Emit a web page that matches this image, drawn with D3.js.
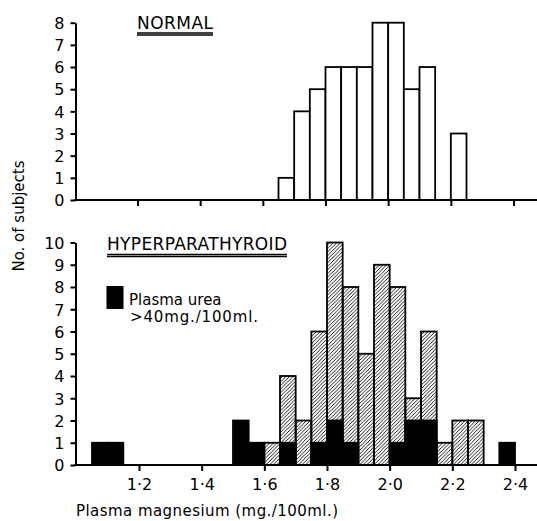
<!DOCTYPE HTML>
<html>
	<head>
		<title>Plasma magnesium histograms</title>
		<meta charset="UTF8">
		<script src="https://d3js.org/d3.v7.min.js"></script>
		<style>
			body
			{
				margin: 0;
				padding: 0;
				background-color: white;
			}
			svg
			{
				display: block;
				font-family: "DejaVu Sans", sans-serif;
			}
			.axis path, .axis line
			{
				stroke: black;
				stroke-width: 2;
			}
			.axis text
			{
				font-size: 16px;
				font-family: "DejaVu Sans", sans-serif;
				fill: black;
			}
		</style>
	</head>

	<body>
		<svg></svg>
	</body>

	<script>
		// bin lower edges (mg./100ml.), bins are 0.05 wide
		const normalBins = [1.65, 1.70, 1.75, 1.80, 1.85, 1.90, 1.95, 2.00, 2.05, 2.10, 2.15, 2.20];
		const normalCounts = [1, 4, 5, 6, 6, 6, 8, 8, 5, 6, 0, 3];

		const hyperBins = [1.05, 1.10, 1.50, 1.55, 1.60, 1.65, 1.70, 1.75, 1.80, 1.85, 1.90, 1.95, 2.00, 2.05, 2.10, 2.15, 2.20, 2.25, 2.30, 2.35];
		const hyperTotal = [1, 1, 2, 1, 1, 4, 2, 6, 10, 8, 5, 9, 8, 3, 6, 1, 2, 2, 0, 1];
		const hyperUrea = [1, 1, 2, 1, 0, 1, 0, 1, 2, 1, 0, 0, 1, 2, 2, 0, 0, 0, 0, 1];

		const xTicks = [1.2, 1.4, 1.6, 1.8, 2.0, 2.2, 2.4];
		const binWidth = 0.05;

		const w = 537;
		const h = 521;
		const axisX = 75.5;

		const svg = d3.select("svg")
		.attr("width", w)
		.attr("height", h);

		const defs = svg.append("defs");
		defs.append("pattern")
		.attr("id", "hatch")
		.attr("patternUnits", "userSpaceOnUse")
		.attr("width", 3.6)
		.attr("height", 3.6)
		.append("path")
		.attr("d", "M-1,1 l2,-2 M0,3.6 l3.6,-3.6 M2.6,4.6 l2,-2")
		.attr("stroke", "black")
		.attr("stroke-width", 0.9);

		const xTop = d3.scaleLinear().domain([1.2, 2.4]).range([137.5, 513.5]);
		const yTop = d3.scaleLinear().domain([0, 8]).range([200, 22.7]);
		const xBot = d3.scaleLinear().domain([1.2, 2.4]).range([139, 515]);
		const yBot = d3.scaleLinear().domain([0, 10]).range([465, 242.5]);

		const fmt = d => d3.format(".1f")(d).replace(".", "\u00b7");

		function drawAxes(x, y, maxY, labels)
		{
			const base = y(0);

			svg.append("g")
			.attr("class", "axis")
			.attr("transform", "translate(" + axisX + ",0)")
			.call(d3.axisLeft(y).ticks(maxY).tickSize(5).tickSizeOuter(0).tickPadding(6))
			.call(g => g.selectAll("text").attr("dy", "0.36em"));

			const xa = svg.append("g")
			.attr("class", "axis")
			.attr("transform", "translate(0," + base + ")")
			.call(d3.axisBottom(x).tickValues(xTicks).tickSize(6).tickFormat(labels ? fmt : ""));
			xa.select(".domain").remove();
			xa.selectAll("text").attr("dy", "1.0em");

			svg.append("line")
			.attr("x1", axisX - 1)
			.attr("x2", w)
			.attr("y1", base)
			.attr("y2", base)
			.attr("stroke", "black")
			.attr("stroke-width", 2);
		}

		function title(text, x, y, len)
		{
			svg.append("text")
			.attr("x", x)
			.attr("y", y)
			.attr("textLength", len)
			.attr("lengthAdjust", "spacing")
			.style("font-size", "17px")
			.text(text);
			[y + 4.5, y + 6.5].forEach(ly => {
				svg.append("line")
				.attr("x1", x)
				.attr("x2", x + len)
				.attr("y1", ly)
				.attr("y2", ly)
				.attr("stroke", "black")
				.attr("stroke-width", 1.3);
			});
		}

		// NORMAL
		svg.append("g")
		.selectAll("rect")
		.data(normalBins.filter((d, i) => normalCounts[i] > 0))
		.enter()
		.append("rect")
		.attr("x", d => xTop(d))
		.attr("width", d => xTop(d + binWidth) - xTop(d))
		.attr("y", d => yTop(normalCounts[normalBins.indexOf(d)]))
		.attr("height", d => yTop(0) - yTop(normalCounts[normalBins.indexOf(d)]))
		.attr("fill", "white")
		.attr("stroke", "black")
		.attr("stroke-width", 1.8);

		drawAxes(xTop, yTop, 8, false);
		title("NORMAL", 137, 28.5, 76);

		// HYPERPARATHYROID
		const hyper = hyperBins.map((b, i) => ({bin: b, total: hyperTotal[i], urea: hyperUrea[i]}))
		.filter(d => d.total > 0);

		svg.append("g")
		.selectAll("rect")
		.data(hyper.filter(d => d.total > d.urea))
		.enter()
		.append("rect")
		.attr("x", d => xBot(d.bin))
		.attr("width", d => xBot(d.bin + binWidth) - xBot(d.bin))
		.attr("y", d => yBot(d.total))
		.attr("height", d => yBot(0) - yBot(d.total))
		.attr("fill", "url(#hatch)")
		.attr("stroke", "black")
		.attr("stroke-width", 1.8);

		svg.append("g")
		.selectAll("rect")
		.data(hyper.filter(d => d.urea > 0))
		.enter()
		.append("rect")
		.attr("x", d => xBot(d.bin))
		.attr("width", d => xBot(d.bin + binWidth) - xBot(d.bin))
		.attr("y", d => yBot(d.urea))
		.attr("height", d => yBot(0) - yBot(d.urea))
		.attr("fill", "black")
		.attr("stroke", "black")
		.attr("stroke-width", 1.8);

		drawAxes(xBot, yBot, 10, true);
		title("HYPERPARATHYROID", 107, 250, 180);

		// legend
		svg.append("rect")
		.attr("x", 106.5)
		.attr("y", 286)
		.attr("width", 17)
		.attr("height", 23)
		.attr("fill", "black");

		svg.append("text")
		.attr("x", 129)
		.attr("y", 305)
		.style("font-size", "15px")
		.text("Plasma urea");

		svg.append("text")
		.attr("x", 130)
		.attr("y", 322)
		.attr("textLength", 128)
		.attr("lengthAdjust", "spacing")
		.style("font-size", "15px")
		.text(">40mg./100ml.");

		// axis titles
		svg.append("text")
		.attr("transform", "translate(24,216) rotate(-90)")
		.attr("text-anchor", "middle")
		.style("font-size", "15px")
		.text("No. of subjects");

		svg.append("text")
		.attr("x", 76)
		.attr("y", 516)
		.attr("textLength", 262)
		.attr("lengthAdjust", "spacing")
		.style("font-size", "15px")
		.text("Plasma magnesium (mg./100ml.)");
	</script>
</html>
